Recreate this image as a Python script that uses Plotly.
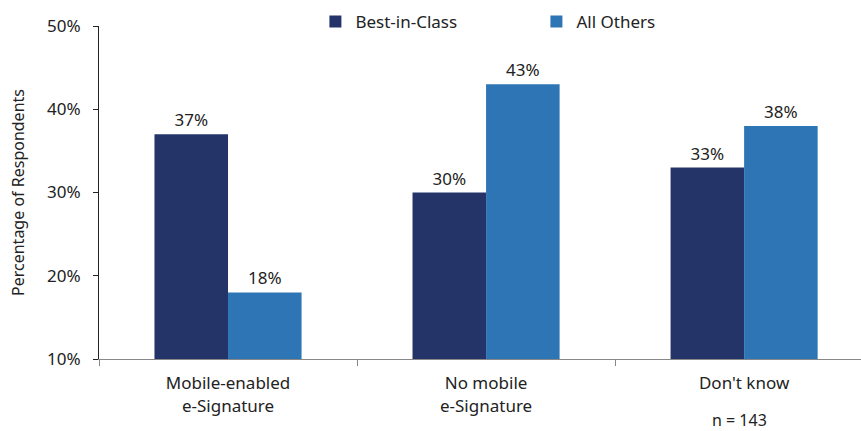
import plotly.graph_objects as go

categories = ["Mobile-enabled<br>e-Signature", "No mobile<br>e-Signature", "Don't know"]
best_in_class = [37, 30, 33]
all_others = [18, 43, 38]
y_ticks = [10, 20, 30, 40, 50]

FONT = "Noto Sans"
DARK = "#243469"
LIGHT = "#2E75B6"

fig = go.Figure()
for name, vals, color in [("Best-in-Class", best_in_class, DARK), ("All Others", all_others, LIGHT)]:
    fig.add_trace(go.Bar(
        name=name, x=categories, y=vals,
        marker=dict(color=color, line=dict(width=0)),
        text=[f"{v}%" for v in vals], textposition="outside",
        textfont=dict(family=FONT, size=17, color="#222"),
        cliponaxis=False,
    ))

fig.update_layout(
    width=861, height=431,
    margin=dict(l=99, r=0, t=26, b=72),
    paper_bgcolor="white", plot_bgcolor="white",
    font=dict(family=FONT, size=17, color="#222"),
    barmode="group", bargap=0.43, bargroupgap=0,
    showlegend=True,
    legend=dict(
        orientation="h", x=0.284, y=1.012, xanchor="left", yanchor="middle",
        entrywidth=176, entrywidthmode="pixels",
        font=dict(family=FONT, size=17), itemclick=False, traceorder="normal",
        bgcolor="rgba(0,0,0,0)",
    ),
    xaxis=dict(
        type="category", range=[-0.5, 2.453],
        showline=True, linecolor="#888", linewidth=1,
        ticks="outside", tickson="boundaries", ticklen=6, tickcolor="#888",
        showgrid=False, tickfont=dict(family=FONT, size=17), ticklabelstandoff=9,
    ),
    yaxis=dict(
        range=[10, 50], tickvals=y_ticks, ticktext=[f"{t}%" for t in y_ticks],
        showline=True, linecolor="#222", linewidth=1,
        ticks="outside", ticklen=5, tickcolor="#222", ticklabelstandoff=9,
        showgrid=False, zeroline=False, tickfont=dict(family=FONT, size=17),
        title=dict(text="Percentage of Respondents", font=dict(family=FONT, size=16), standoff=18),
    ),
)

fig.add_annotation(
    text="n = 143", xref="paper", yref="paper", x=0.84, y=-0.183,
    showarrow=False, font=dict(family=FONT, size=16), xanchor="center", yanchor="middle",
)

fig.write_html("out.html")
